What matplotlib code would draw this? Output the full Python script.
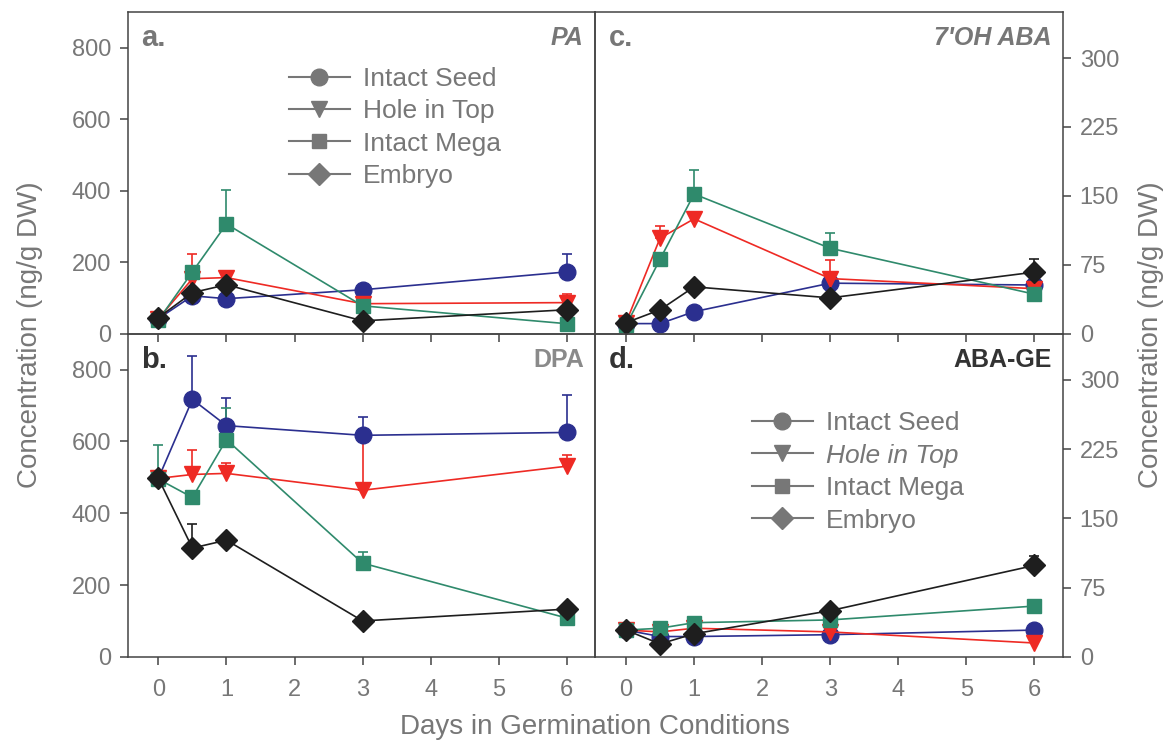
import matplotlib
matplotlib.use("Agg")
from matplotlib import pyplot as plt
from matplotlib.lines import Line2D
import numpy as np

plt.rcParams['font.family'] = ['Liberation Sans', 'DejaVu Sans']

days = [0, 0.5, 1, 3, 6]
series = ["Intact Seed", "Hole in Top", "Intact Mega", "Embryo"]

# values per panel: seed, hole, mega, embryo
pa_vals = [[42, 106, 98, 123, 173],
           [42, 154, 157, 84, 87],
           [38, 173, 307, 78, 28],
           [45, 115, 137, 36, 67]]
pa_err = [[0, 0, 0, 0, 51],
          [0, 70, 0, 0, 24],
          [0, 0, 95, 0, 0],
          [0, 0, 0, 0, 0]]

dpa_vals = [[497, 717, 644, 617, 625],
            [497, 508, 511, 464, 531],
            [495, 444, 605, 261, 108],
            [497, 303, 325, 100, 133]]
dpa_err = [[0, 122, 78, 50, 103],
           [0, 67, 28, 145, 30],
           [95, 0, 87, 31, 0],
           [0, 66, 0, 0, 0]]

oh_vals = [[11, 11, 24, 55, 53],
           [12, 104, 125, 60, 49],
           [9, 81, 152, 93, 43],
           [12, 26, 51, 39, 67]]
oh_err = [[0, 0, 0, 0, 0],
          [0, 13, 0, 20, 0],
          [0, 0, 26, 17, 0],
          [0, 0, 0, 0, 14]]

ge_vals = [[29, 22, 22, 24, 29],
           [29, 27, 31, 27, 15],
           [29, 31, 37, 40, 55],
           [29, 14, 25, 50, 99]]
ge_err = [[0, 0, 0, 0, 0],
          [0, 0, 0, 0, 0],
          [0, 0, 0, 0, 0],
          [0, 0, 0, 0, 10]]

colors = ["#2b2f8f", "#ee2a24", "#2f8a6c", "#1e1e1e"]
markers = ["o", "v", "s", "D"]
msizes = [12, 12, 10.5, 11]
gray = "#777777"
spine = "#444444"

fig = plt.figure(figsize=(11.72, 7.55), dpi=100)
L, M, R = 0.109, 0.508, 0.907
T, C, B = 0.984, 0.558, 0.130
ax_a = fig.add_axes([L, C, M - L, T - C])
ax_b = fig.add_axes([L, B, M - L, C - B])
ax_c = fig.add_axes([M, C, R - M, T - C])
ax_d = fig.add_axes([M, B, R - M, C - B])


def draw(ax, vals, errs):
    for i in range(4):
        v = np.array(vals[i], float)
        e = np.array(errs[i], float)
        ax.plot(days, v, color=colors[i], lw=1.2, zorder=2 + i)
        m = e > 0
        if m.any():
            ax.errorbar(np.array(days)[m], v[m], yerr=[np.zeros(m.sum()), e[m]],
                        fmt="none", ecolor=colors[i], elinewidth=1.2,
                        capsize=3.5, capthick=1.2, zorder=1.5)
        ax.plot(days, v, ls="none", marker=markers[i], ms=msizes[i],
                color=colors[i], mec=colors[i], zorder=3 + i)


draw(ax_a, pa_vals, pa_err)
draw(ax_b, dpa_vals, dpa_err)
draw(ax_c, oh_vals, oh_err)
draw(ax_d, ge_vals, ge_err)

for ax in [ax_a, ax_b, ax_c, ax_d]:
    ax.set_facecolor("none")
    ax.set_xlim(-0.45, 6.42)
    ax.set_xticks(range(7))
    for s in ax.spines.values():
        s.set_color(spine)
        s.set_linewidth(1.1)
    ax.tick_params(direction="out", length=6, width=1.1, color=spine,
                   labelsize=17, labelcolor=gray, pad=6)

for ax in [ax_a, ax_b]:
    ax.set_ylim(0, 900)
    ax.set_yticks([0, 200, 400, 600, 800])
for ax in [ax_c, ax_d]:
    ax.set_ylim(0, 350)
    ax.set_yticks([0, 75, 150, 225, 300])
    ax.yaxis.tick_right()
    ax.tick_params(axis="y", left=False)
for ax in [ax_a, ax_c]:
    ax.tick_params(axis="x", labelbottom=False)
ax_b.tick_params(axis="x", pad=10)
ax_d.tick_params(axis="x", pad=10)


def label(ax, letter, name, lcol, ncol, nstyle="normal"):
    ax.text(0.028, 0.92, letter, transform=ax.transAxes, fontsize=21,
            fontweight="bold", color=lcol, ha="left", va="center")
    ax.text(0.975, 0.92, name, transform=ax.transAxes, fontsize=18,
            fontweight="bold", color=ncol, ha="right", va="center",
            style=nstyle)


label(ax_a, "a.", "PA", gray, gray, "italic")
label(ax_b, "b.", "DPA", "#333333", "#8a8a8a")
label(ax_c, "c.", "7'OH ABA", gray, gray, "italic")
label(ax_d, "d.", "ABA-GE", "#333333", "#333333")

handles = [Line2D([0], [0], color=gray, lw=1.5, marker=markers[i],
                  ms=msizes[i], mfc=gray, mec=gray) for i in range(4)]
leg_a = ax_a.legend(handles, series, loc="upper left",
                    bbox_to_anchor=(0.345, 0.83), frameon=False,
                    fontsize=19, labelcolor=gray, handlelength=2.3,
                    handletextpad=0.5, labelspacing=0.32, borderpad=0,
                    borderaxespad=0)
leg_d = ax_d.legend(handles, series, loc="upper left",
                    bbox_to_anchor=(0.335, 0.76), frameon=False,
                    fontsize=19, labelcolor=gray, handlelength=2.3,
                    handletextpad=0.5, labelspacing=0.32, borderpad=0,
                    borderaxespad=0)
leg_d.get_texts()[1].set_style("italic")

fig.text(0.026, (T + B) / 2, "Concentration (ng/g DW)", rotation=90,
         fontsize=20, color=gray, ha="center", va="center")
fig.text(0.982, (T + B) / 2, "Concentration (ng/g DW)", rotation=90,
         fontsize=20, color=gray, ha="center", va="center")
fig.text((L + R) / 2, 0.02, "Days in Germination Conditions",
         fontsize=20, color=gray, ha="center", va="bottom")

fig.savefig("out.png", dpi=100)
